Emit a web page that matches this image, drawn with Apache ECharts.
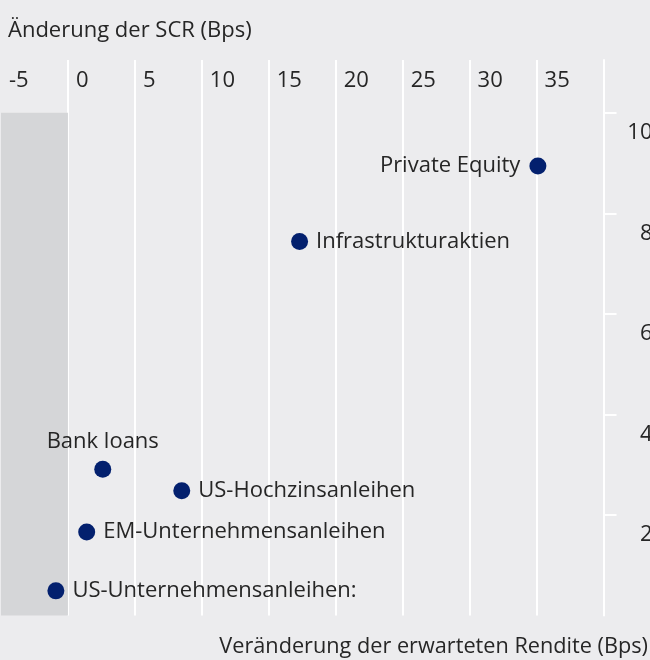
<!DOCTYPE html>
<html>
<head>
<meta charset="utf-8">
<script src="https://cdn.jsdelivr.net/npm/echarts@6/dist/echarts.min.js"></script>
<style>
  html, body { margin: 0; padding: 0; background: #ececee; }
  #chart { width: 650px; height: 660px; }
</style>
</head>
<body>
<div id="chart"></div>
<script>
// Daten
const names = ['Private Equity', 'Infrastrukturaktien', 'Bank loans', 'US-Hochzinsanleihen', 'EM-Unternehmensanleihen', 'US-Unternehmensanleihen:'];
const renditeChange = [35.1, 17.3, 2.6, 8.5, 1.4, -0.9];
const scrChange = [8.94, 7.44, 2.91, 2.48, 1.66, 0.49];
const xTicks = [-5, 0, 5, 10, 15, 20, 25, 30, 35];
const yTicks = [2, 4, 6, 8, 10];

const textColor = '#262626';
const font = 'Open Sans';

// label placement per point
const labelCfg = {
  'Private Equity': {position: 'left', distance: 9},
  'Bank loans': {position: 'top', distance: 8},
};

const chart = echarts.init(document.getElementById('chart'));

const points = names.map((n, i) => ({
  name: n,
  value: [renditeChange[i], scrChange[i]],
  label: Object.assign({position: 'right', distance: 8}, labelCfg[n] || {}),
}));

const option = {
  backgroundColor: '#ececee',
  textStyle: {fontFamily: font},
  title: [
    {
      text: 'Änderung der SCR (Bps)',
      left: 8, top: 20, padding: 0,
      textStyle: {fontFamily: font, fontSize: 22, fontWeight: 'normal', color: textColor},
    },
    {
      text: 'Veränderung der erwarteten Rendite (Bps)',
      right: 2, top: 636, padding: 0,
      textStyle: {fontFamily: font, fontSize: 21.7, fontWeight: 'normal', color: textColor},
    },
  ],
  grid: {left: 1, right: 46.5, top: 60, bottom: 44.5, outerBoundsMode: 'none'},
  xAxis: {
    type: 'value',
    position: 'top',
    min: -5, max: 40, interval: 5,
    axisLine: {show: false},
    axisTick: {show: false},
    splitLine: {show: true, showMinLine: false, lineStyle: {color: '#ffffff', width: 2}},
    axisLabel: {
      inside: true, margin: 21,
      customValues: xTicks,
      align: 'left', verticalAlign: 'middle',
      padding: [0, 0, 0, 8],
      fontFamily: font, fontSize: 22, color: textColor,
    },
  },
  yAxis: {
    type: 'value',
    position: 'right',
    min: 0, max: 11.05,
    axisLine: {show: true, onZero: false, lineStyle: {color: '#ffffff', width: 2}},
    axisTick: {show: true, customValues: yTicks, length: 13, lineStyle: {color: '#ffffff', width: 2}},
    splitLine: {show: false},
    axisLabel: {
      customValues: yTicks,
      margin: 49, align: 'right', verticalAlign: 'top',
      lineHeight: 40,
      fontFamily: font, fontSize: 22, color: textColor,
    },
  },
  series: [{
    type: 'scatter',
    symbolSize: 17,
    itemStyle: {color: '#03206e', opacity: 1},
    label: {
      show: true,
      formatter: '{b}',
      fontFamily: font, fontSize: 22, color: textColor,
    },
    markArea: {
      silent: true,
      itemStyle: {color: '#d5d6d8'},
      data: [[{coord: [-5, 0]}, {coord: [0, 10]}]],
    },
    data: points,
  }],
};

chart.setOption(option);
</script>
</body>
</html>
